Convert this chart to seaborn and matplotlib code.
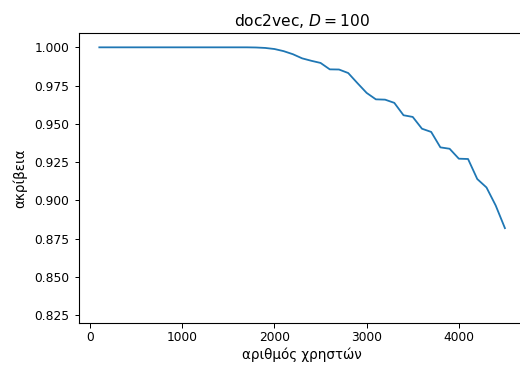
import numpy as np
import pandas as pd
import seaborn as sns
import matplotlib.pyplot as plt

# number of users (x) and accuracy (y)
users = list(range(100, 4600, 100))
accuracy = [1.0] * 17 + [
    0.9999, 0.9996, 0.9989, 0.9975, 0.9955, 0.9928, 0.9912, 0.9898,
    0.9856, 0.9855, 0.9832, 0.9766, 0.9702, 0.9660, 0.9658, 0.9637,
    0.9556, 0.9545, 0.9468, 0.9447, 0.9346, 0.9337, 0.9272, 0.9270,
    0.9139, 0.9084, 0.8966, 0.8818,
]

df = pd.DataFrame({"users": users, "accuracy": accuracy})

fig = plt.figure(figsize=(520 / 72, 369 / 72), dpi=72)
ax = fig.add_axes([0.152, 0.1247, 0.858, 0.786])

sns.lineplot(data=df, x="users", y="accuracy", color="#1f77b4", linewidth=1.8, ax=ax)

ax.set_xlim(-120, 4720)
ax.set_ylim(0.8198, 1.0094)
ax.set_yticks(np.arange(0.825, 1.001, 0.025))
ax.set_xticks([0, 1000, 2000, 3000, 4000])
ax.set_title("doc2vec, $D = 100$", fontsize=15.5, pad=7)
ax.set_xlabel("αριθμός χρηστών", fontsize=13.5, labelpad=4)
ax.set_ylabel("ακρίβεια", fontsize=13.5, labelpad=7)
ax.tick_params(labelsize=12.3, length=4.5, width=1)
ax.tick_params(axis="y", pad=5)
for s in ax.spines.values():
    s.set_linewidth(1.1)

plt.savefig("out.png", dpi=72)
